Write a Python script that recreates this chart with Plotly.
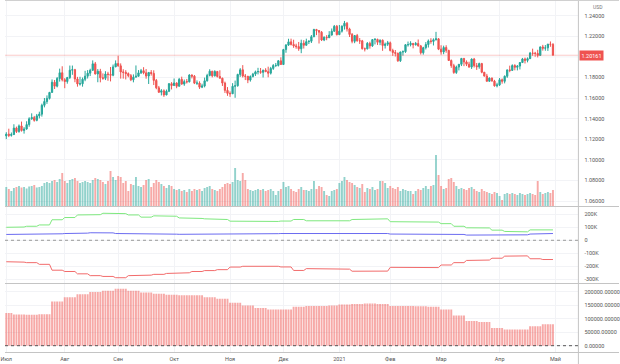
import pandas as pd
import plotly.graph_objects as go

# ---------------- data ----------------
dates = [d for d in pd.bdate_range("2020-07-01", "2021-04-30")
         if d.strftime("%m-%d") not in ("12-25", "01-01")]

opens = [
 1.1233,1.1250,1.1238,1.1246,1.1309,1.1275,1.1330,1.1285,1.1300,1.1343,1.1399,1.1411,1.1384,1.1428,1.1444,1.1530,1.1567,1.1597,1.1655,1.1754,1.1716,1.1790,1.1846,
 1.1778,1.1761,1.1800,1.1871,1.1876,1.1786,1.1737,1.1739,1.1783,1.1813,1.1842,1.1870,1.1933,1.1834,1.1861,1.1797,1.1792,1.1834,1.1830,1.1822,1.1903,
 1.1936,1.1913,1.1854,1.1850,1.1838,1.1818,1.1778,1.1803,1.1812,1.1845,1.1866,1.1845,1.1814,1.1849,1.1840,1.1772,1.1700,1.1657,1.1671,1.1631,1.1667,1.1740,
 1.1722,1.1747,1.1715,1.1782,1.1736,1.1760,1.1758,1.1824,1.1813,1.1745,1.1746,1.1706,1.1718,1.1768,1.1820,1.1861,1.1816,1.1859,1.1810,1.1793,1.1746,1.1675,
 1.1646,1.1642,1.1715,1.1720,1.1830,1.1875,1.1814,1.1812,1.1775,1.1810,1.1833,1.1855,1.1858,1.1850,1.1871,1.1857,1.1842,1.1888,1.1917,1.1917,1.1962,
 1.1926,1.2071,1.2115,1.2146,1.2121,1.2107,1.2100,1.2079,1.2133,1.2113,1.2148,1.2152,1.2196,1.2266,1.2256,1.2240,1.2164,1.2191,1.2186,1.2212,1.2249,1.2297,
 1.2216,1.2250,1.2298,1.2327,1.2271,1.2218,1.2151,1.2207,1.2156,1.2156,1.2079,1.2078,1.2132,1.2107,1.2168,1.2170,1.2142,1.2162,1.2111,1.2123,
 1.2137,1.2062,1.2043,1.2035,1.1962,1.2048,1.2051,1.2118,1.2119,1.2131,1.2118,1.2130,1.2107,1.2040,1.2090,1.2120,1.2155,1.2150,1.2166,1.2175,
 1.2075,1.2048,1.2091,1.2063,1.1965,1.1915,1.1848,1.1901,1.1928,1.1985,1.1951,1.1929,1.1901,1.1979,1.1915,1.1904,1.1935,1.1851,1.1814,1.1763,1.1794,1.1765,1.1719,
 1.1728,1.1778,1.1763,1.1812,1.1874,1.1869,1.1916,1.1899,1.1911,1.1945,1.1980,1.1966,1.1983,1.2037,1.2035,1.2034,1.2014,1.2097,1.2084,1.2088,1.2124,1.2122,
]
highs = [
 1.1269,1.1303,1.1266,1.1346,1.1323,1.1344,1.1372,1.1318,1.1375,1.1414,1.1452,1.1427,1.1446,1.1468,1.1546,1.1601,1.1626,1.1660,1.1781,1.1776,1.1805,1.1886,1.1909,
 1.1794,1.1806,1.1916,1.1916,1.1884,1.1806,1.1807,1.1800,1.1865,1.1872,1.1885,1.1966,1.1951,1.1882,1.1884,1.1840,1.1861,1.1855,1.1902,1.1926,1.1966,
 1.2011,1.1937,1.1880,1.1871,1.1849,1.1834,1.1830,1.1917,1.1872,1.1883,1.1900,1.1882,1.1846,1.1872,1.1870,1.1786,1.1718,1.1687,1.1685,1.1683,1.1745,1.1755,
 1.1790,1.1753,1.1796,1.1808,1.1780,1.1786,1.1832,1.1830,1.1824,1.1772,1.1763,1.1740,1.1799,1.1836,1.1880,1.1864,1.1870,1.1861,1.1870,1.1798,1.1760,1.1707,
 1.1665,1.1745,1.1770,1.1836,1.1891,1.1920,1.1834,1.1815,1.1820,1.1845,1.1867,1.1894,1.1892,1.1875,1.1890,1.1905,1.1903,1.1930,1.1941,1.1970,1.1996,
 1.2078,1.2124,1.2176,1.2177,1.2167,1.2128,1.2145,1.2167,1.2162,1.2177,1.2161,1.2212,1.2273,1.2272,1.2260,1.2251,1.2199,1.2211,1.2250,1.2276,1.2310,1.2310,
 1.2310,1.2306,1.2349,1.2339,1.2283,1.2232,1.2212,1.2223,1.2183,1.2165,1.2091,1.2144,1.2148,1.2172,1.2183,1.2177,1.2170,1.2169,1.2139,1.2155,
 1.2149,1.2079,1.2067,1.2042,1.2050,1.2063,1.2124,1.2149,1.2152,1.2135,1.2145,1.2169,1.2116,1.2098,1.2144,1.2169,1.2181,1.2180,1.2243,1.2183,
 1.2113,1.2109,1.2113,1.2069,1.1975,1.1933,1.1915,1.1930,1.1990,1.1990,1.1966,1.1953,1.1985,1.1990,1.1941,1.1944,1.1942,1.1854,1.1835,1.1801,1.1800,1.1777,1.1749,
 1.1795,1.1790,1.1820,1.1877,1.1915,1.1928,1.1929,1.1920,1.1950,1.1990,1.1993,1.1995,1.2048,1.2080,1.2049,1.2069,1.2101,1.2117,1.2115,1.2126,1.2150,1.2133,
]
lows = [
 1.1202,1.1221,1.1226,1.1241,1.1261,1.1264,1.1275,1.1255,1.1293,1.1322,1.1389,1.1371,1.1375,1.1403,1.1420,1.1510,1.1544,1.1586,1.1653,1.1688,1.1704,1.1760,1.1762,
 1.1696,1.1740,1.1785,1.1826,1.1754,1.1711,1.1722,1.1711,1.1764,1.1790,1.1814,1.1864,1.1830,1.1754,1.1753,1.1778,1.1775,1.1768,1.1762,1.1812,1.1901,
 1.1905,1.1789,1.1789,1.1781,1.1802,1.1765,1.1753,1.1802,1.1809,1.1834,1.1831,1.1788,1.1737,1.1818,1.1727,1.1686,1.1650,1.1626,1.1612,1.1627,1.1658,1.1684,
 1.1719,1.1696,1.1713,1.1730,1.1719,1.1742,1.1752,1.1791,1.1736,1.1728,1.1689,1.1697,1.1704,1.1760,1.1811,1.1801,1.1810,1.1800,1.1791,1.1718,1.1650,1.1622,
 1.1612,1.1640,1.1603,1.1711,1.1806,1.1800,1.1775,1.1745,1.1760,1.1800,1.1815,1.1830,1.1836,1.1800,1.1852,1.1802,1.1829,1.1874,1.1901,1.1907,1.1922,
 1.1922,1.2040,1.2107,1.2111,1.2088,1.2079,1.2059,1.2036,1.2081,1.2110,1.2125,1.2135,1.2191,1.2211,1.2130,1.2154,1.2153,1.2162,1.2185,1.2207,1.2245,1.2208,
 1.2215,1.2236,1.2265,1.2246,1.2193,1.2132,1.2133,1.2148,1.2126,1.2072,1.2053,1.2073,1.2080,1.2097,1.2121,1.2116,1.2114,1.2059,1.2081,1.2106,
 1.2053,1.2010,1.2004,1.1952,1.1951,1.2012,1.2039,1.2100,1.2102,1.2083,1.2110,1.2100,1.2023,1.2022,1.2072,1.2091,1.2128,1.2111,1.2160,1.2066,
 1.2022,1.2026,1.2040,1.1961,1.1894,1.1836,1.1835,1.1869,1.1911,1.1910,1.1911,1.1895,1.1883,1.1897,1.1874,1.1885,1.1841,1.1809,1.1761,1.1762,1.1762,1.1711,1.1704,
 1.1718,1.1740,1.1743,1.1796,1.1851,1.1866,1.1870,1.1869,1.1878,1.1943,1.1936,1.1947,1.1980,1.2011,1.2001,1.1995,1.2010,1.2061,1.2060,1.2058,1.2098,1.2016,
]
closes = [
 1.1250,1.1238,1.1246,1.1309,1.1275,1.1330,1.1285,1.1300,1.1343,1.1399,1.1411,1.1384,1.1428,1.1444,1.1530,1.1567,1.1597,1.1655,1.1754,1.1716,1.1790,1.1846,1.1778,
 1.1761,1.1800,1.1871,1.1876,1.1786,1.1737,1.1739,1.1783,1.1813,1.1842,1.1870,1.1933,1.1834,1.1861,1.1797,1.1792,1.1834,1.1830,1.1822,1.1903,1.1936,
 1.1913,1.1854,1.1850,1.1838,1.1818,1.1778,1.1803,1.1812,1.1845,1.1866,1.1845,1.1814,1.1849,1.1840,1.1772,1.1700,1.1657,1.1671,1.1631,1.1667,1.1740,1.1722,
 1.1747,1.1715,1.1782,1.1736,1.1760,1.1758,1.1824,1.1813,1.1745,1.1746,1.1706,1.1718,1.1768,1.1820,1.1861,1.1816,1.1859,1.1810,1.1793,1.1746,1.1675,1.1646,
 1.1642,1.1715,1.1720,1.1830,1.1875,1.1814,1.1812,1.1775,1.1810,1.1833,1.1855,1.1858,1.1850,1.1871,1.1857,1.1842,1.1888,1.1917,1.1917,1.1962,1.1926,
 1.2071,1.2115,1.2146,1.2121,1.2107,1.2100,1.2079,1.2133,1.2113,1.2148,1.2152,1.2196,1.2266,1.2256,1.2240,1.2164,1.2191,1.2186,1.2212,1.2249,1.2297,1.2216,
 1.2250,1.2298,1.2327,1.2271,1.2218,1.2151,1.2207,1.2156,1.2156,1.2079,1.2078,1.2132,1.2107,1.2168,1.2170,1.2142,1.2162,1.2111,1.2123,1.2137,
 1.2062,1.2043,1.2035,1.1962,1.2048,1.2051,1.2118,1.2119,1.2131,1.2118,1.2130,1.2107,1.2040,1.2090,1.2120,1.2155,1.2150,1.2166,1.2175,1.2075,
 1.2048,1.2091,1.2063,1.1965,1.1915,1.1848,1.1901,1.1928,1.1985,1.1951,1.1929,1.1901,1.1979,1.1915,1.1904,1.1935,1.1851,1.1814,1.1763,1.1794,1.1765,1.1719,1.1728,
 1.1778,1.1763,1.1812,1.1874,1.1869,1.1916,1.1899,1.1911,1.1945,1.1980,1.1966,1.1983,1.2037,1.2035,1.2034,1.2014,1.2097,1.2084,1.2088,1.2124,1.2122,1.20161,
]
volumes = [
 190,170,150,180,190,200,185,190,175,195,200,210,185,190,200,230,240,230,250,260,240,270,330,
 250,230,260,270,280,250,230,240,250,240,230,260,280,270,260,240,220,250,350,290,260,
 300,290,230,250,150,220,210,290,200,190,210,260,270,190,230,260,240,220,200,180,210,200,
 170,160,170,150,160,140,170,150,170,160,170,150,180,190,200,170,160,150,170,190,220,230,
 220,240,380,260,250,330,260,170,160,150,160,170,160,170,150,160,170,150,110,150,170,
 240,190,200,170,150,140,170,190,160,160,150,170,250,170,200,190,150,110,100,150,160,170,
 230,250,290,260,240,230,210,190,180,220,140,180,170,190,160,170,250,250,230,180,
 200,180,170,190,150,170,160,150,150,120,150,170,160,180,200,170,200,210,510,310,
 200,170,180,270,280,240,200,170,180,170,160,180,190,170,150,140,170,150,140,130,120,140,130,
 100,60,120,130,120,130,120,110,130,120,110,120,130,120,110,250,140,120,130,140,130,160,
]

# weekly series (weeks starting 2020-06-29 ... 2021-04-26)
cot_green = [100e3,102e3,108e3,118e3,158e3,175e3,195e3,197e3,208e3,205e3,195e3,178e3,188e3,185e3,172e3,168e3,
             165e3,160e3,147e3,142e3,143e3,145e3,148e3,160e3,150e3,148e3,148e3,150e3,160e3,163e3,165e3,143e3,
             144e3,143e3,140e3,128e3,108e3,96e3,95e3,78e3,68e3,65e3,80e3,80e3]
cot_blue = [45e3,46e3,47e3,48e3,50e3,52e3,55e3,58e3,57e3,52e3,52e3,50e3,48e3,47e3,46e3,46e3,47e3,48e3,48e3,50e3,
            50e3,51e3,52e3,55e3,55e3,56e3,56e3,56e3,55e3,55e3,52e3,48e3,48e3,47e3,46e3,46e3,45e3,40e3,40e3,42e3,
            42e3,42e3,48e3,52e3]
cot_red = [-165e3,-168e3,-172e3,-185e3,-230e3,-240e3,-258e3,-272e3,-278e3,-288e3,-272e3,-268e3,-262e3,-255e3,
           -250e3,-240e3,-233e3,-226e3,-206e3,-200e3,-198e3,-200e3,-205e3,-232e3,-218e3,-218e3,-220e3,-222e3,
           -238e3,-240e3,-237e3,-208e3,-208e3,-210e3,-210e3,-190e3,-172e3,-155e3,-152e3,-138e3,-122e3,-120e3,
           -142e3,-148e3]
open_interest = [122e3,116e3,115e3,117e3,165e3,180e3,192e3,200e3,205e3,212e3,205e3,198e3,193e3,190e3,188e3,188e3,
                 180e3,175e3,160e3,150e3,140e3,135e3,135e3,145e3,148e3,148e3,150e3,153e3,155e3,157e3,155e3,148e3,
                 148e3,147e3,145e3,135e3,112e3,92e3,88e3,66e3,60e3,60e3,72e3,80e3]

month_labels = ["Июл", "Авг", "Сен", "Окт", "Ноя", "Дек", "2021", "Фев", "Мар", "Апр", "Май"]
price_ticks = [1.06, 1.08, 1.10, 1.12, 1.14, 1.16, 1.18, 1.22, 1.24]
cot_ticks = [200e3, 100e3, 0, -100e3, -200e3, -300e3]
cot_tick_text = ["200K", "100K", "0", "-100K", "-200K", "-300K"]
oi_ticks = [200e3, 150e3, 100e3, 50e3, 0]
last_price = 1.20161

# ---------------- derived positions ----------------
x = list(range(len(dates)))
week0 = pd.Timestamp("2020-06-29")
week_of_day = [(d - week0).days // 7 for d in dates]
green_d = [cot_green[w] for w in week_of_day]
blue_d = [cot_blue[w] for w in week_of_day]
red_d = [cot_red[w] for w in week_of_day]
oi_d = [open_interest[w] for w in week_of_day]

month_pos = []
seen = set()
for i, d in enumerate(dates):
    key = (d.year, d.month)
    if key not in seen:
        seen.add(key)
        month_pos.append(i)
month_pos.append(len(dates))

UP, DN = "#26a69a", "#ef5350"
vol_colors = ["rgba(38,166,154,0.5)" if c >= o else "rgba(239,83,80,0.5)" for o, c in zip(opens, closes)]

W, H = 620, 364
XR = 579 / W
def py(px):
    return 1 - px / H

FONT = dict(family="Roboto, Arial", size=5.5, color="#555")
GRID = "#f2f3f6"
SEP = "#c4c4c4"

fig = go.Figure()
fig.add_trace(go.Bar(x=x, y=volumes, marker=dict(color=vol_colors, line=dict(width=0)),
                     xaxis="x", yaxis="y4", hoverinfo="skip"))
fig.add_trace(go.Candlestick(x=x, open=opens, high=highs, low=lows, close=closes,
                             increasing=dict(line=dict(color=UP, width=1), fillcolor=UP),
                             decreasing=dict(line=dict(color=DN, width=1), fillcolor=DN),
                             whiskerwidth=0, xaxis="x", yaxis="y"))
fig.add_trace(go.Scatter(x=x, y=green_d, mode="lines", line=dict(color="#7ee87e", width=1), xaxis="x", yaxis="y2"))
fig.add_trace(go.Scatter(x=x, y=blue_d, mode="lines", line=dict(color="#6b6bf0", width=1), xaxis="x", yaxis="y2"))
fig.add_trace(go.Scatter(x=x, y=red_d, mode="lines", line=dict(color="#f26b6b", width=1), xaxis="x", yaxis="y2"))
fig.add_trace(go.Bar(x=x, y=oi_d, marker=dict(color="rgba(239,83,80,0.5)", line=dict(width=0)),
                     xaxis="x", yaxis="y3"))

yax_common = dict(side="right", anchor="x", showgrid=True, gridcolor=GRID, zeroline=False,
                  showline=False, ticks="", tickfont=FONT, ticklabelstandoff=5, fixedrange=True)

fig.update_layout(
    width=W, height=H, margin=dict(l=0, r=0, t=0, b=0),
    paper_bgcolor="white", plot_bgcolor="white", showlegend=False, bargap=0.25,
    xaxis=dict(domain=[0, XR], range=[-0.5, 225], anchor="y3", tickmode="array",
               tickvals=month_pos, ticktext=month_labels, showgrid=True, gridcolor=GRID,
               zeroline=False, showline=False, ticks="", tickfont=FONT, ticklabeloverflow="allow",
               rangeslider=dict(visible=False), ticklabelstandoff=2),
    yaxis=dict(domain=[py(206), 1], range=[1.05524, 1.25524], tickvals=price_ticks,
               ticktext=[f"{v:.5f}" for v in price_ticks], **yax_common),
    yaxis4=dict(overlaying="y", anchor="x", range=[0, 2060], visible=False, fixedrange=True),
    yaxis2=dict(domain=[py(283), py(206)], range=[-328500, 263800], tickvals=cot_ticks,
                ticktext=cot_tick_text, **yax_common),
    yaxis3=dict(domain=[py(352), py(283)], range=[-23500, 233500], tickvals=oi_ticks,
                ticktext=[f"{v:.5f}" for v in oi_ticks], **yax_common),
)

shapes = [
    dict(type="line", xref="paper", yref="y", x0=0, x1=XR, y0=1.20, y1=1.20, line=dict(color=GRID, width=1), layer="below"),
    dict(type="line", xref="paper", yref="y", x0=0, x1=XR, y0=last_price, y1=last_price,
         line=dict(color="rgba(239,83,80,0.3)", width=1)),
    dict(type="line", xref="paper", yref="y2", x0=0, x1=XR, y0=0, y1=0, line=dict(color="#9a9a9a", width=1, dash="dot")),
    dict(type="line", xref="paper", yref="y3", x0=0, x1=XR, y0=0, y1=0, line=dict(color="#555", width=1, dash="dot")),
    dict(type="line", xref="paper", yref="paper", x0=XR, x1=XR, y0=0, y1=1, line=dict(color=SEP, width=1)),
    dict(type="line", xref="paper", yref="paper", x0=0, x1=1, y0=py(0.5), y1=py(0.5), line=dict(color="#d0d0d0", width=1)),
    dict(type="line", xref="paper", yref="paper", x0=0, x1=1, y0=py(206.5), y1=py(206.5), line=dict(color=SEP, width=1)),
    dict(type="line", xref="paper", yref="paper", x0=0, x1=1, y0=py(283.5), y1=py(283.5), line=dict(color=SEP, width=1)),
    dict(type="line", xref="paper", yref="paper", x0=0, x1=1, y0=py(352.5), y1=py(352.5), line=dict(color=SEP, width=1)),
]
fig.update_layout(shapes=shapes)

fig.add_annotation(xref="paper", yref="y", x=580 / W, y=last_price, xanchor="left", yanchor="middle",
                   text=f"{last_price:.5f}", showarrow=False, bgcolor=DN, borderpad=1.5,
                   font=dict(family="Roboto, Arial", size=5.5, color="white"))
fig.add_annotation(xref="paper", yref="paper", x=599 / W, y=py(6.5), xanchor="center", yanchor="middle",
                   text="USD", showarrow=False, font=dict(family="Roboto, Arial", size=5, color="#777"))

fig.write_html("out.html", config={"displayModeBar": False},
               post_script="document.body.style.margin='0';document.body.style.overflow='hidden';")
